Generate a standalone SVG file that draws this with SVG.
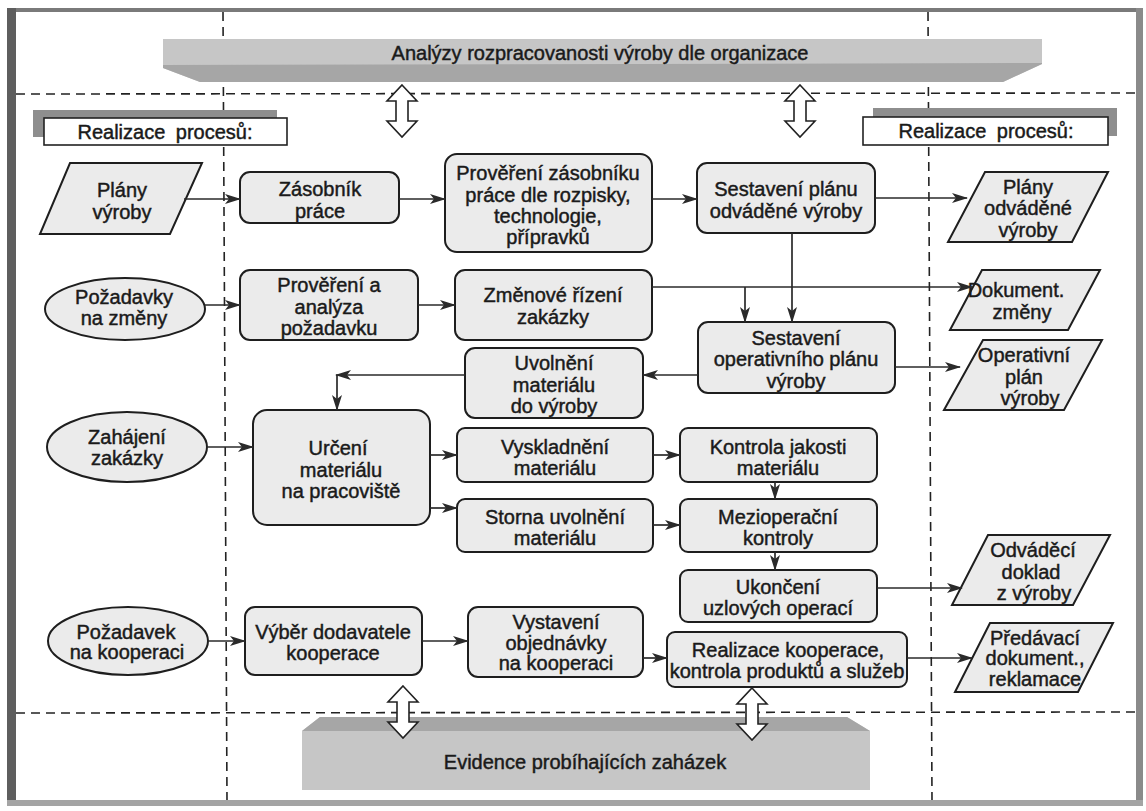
<svg xmlns="http://www.w3.org/2000/svg" width="1146" height="811" viewBox="0 0 1146 811">
  <style>
    text { font-family: "Liberation Sans", Arial, sans-serif; font-size: 20px; fill: #1a1a1a; stroke: #1a1a1a; stroke-width: 0.45; text-anchor: middle; }
    .node { fill: #ebebeb; stroke: #1e1e1e; stroke-width: 2; }
    .lane { fill: none; stroke: #222; stroke-width: 1.6; stroke-dasharray: 9 6; }
    .conn { fill: none; stroke: #2a2a2a; stroke-width: 1.7; marker-end: url(#arrow); }
    .band-light { fill: #c6c6c6; }
    .band-dark { fill: #a6a6a6; }
    .label { fill: #ffffff; stroke: #222; stroke-width: 1.6; }
    .label-shadow { fill: #8e8e8e; }
    .dbl { fill: #ffffff; stroke: #222; stroke-width: 1.6; }
  </style>
  <defs>
    <marker id="arrow" viewBox="0 0 16 10" refX="15" refY="5" markerWidth="16" markerHeight="10" markerUnits="userSpaceOnUse" orient="auto">
      <path d="M0,0 L16,5 L0,10 L4,5 Z" fill="#2a2a2a"/>
    </marker>
    <path id="dblArrow" d="M0,-26 L15,-10 L6,-10 L6,10 L15,10 L0,26 L-15,10 L-6,10 L-6,-10 L-15,-10 Z"/>
  </defs>

  <rect x="0" y="0" width="1146" height="811" fill="#ffffff"/>

  <!-- page frame -->
  <g id="frame">
    <rect x="7" y="8" width="1136" height="4" fill="#7a7a7a"/>
    <rect x="7" y="8" width="9" height="798" fill="#5e5e5e"/>
    <rect x="1136" y="8" width="7" height="798" fill="#8a8a8a"/>
    <rect x="7" y="800" width="1136" height="6" fill="#a4a4a4"/>
  </g>

  <!-- swimlane separators -->
  <g id="lanes">
    <line class="lane" x1="223" y1="12" x2="227" y2="800"/>
    <line class="lane" x1="928" y1="12" x2="932" y2="800"/>
    <line class="lane" x1="16" y1="94" x2="1136" y2="93"/>
    <line class="lane" x1="16" y1="713" x2="1136" y2="712"/>
  </g>

  <!-- top banner -->
  <g id="banner-top">
    <path class="band-light" d="M163,39 L1042,39 L1042,64 L1003,82 L200,82 L163,68 Z"/>
    <path class="band-dark" d="M163,65 L1042,63 L1042,64 L1003,82 L200,82 L163,68 Z"/>
    <text x="600" y="60">Analýzy rozpracovanosti výroby dle organizace</text>
  </g>

  <!-- bottom banner -->
  <g id="banner-bottom">
    <path class="band-light" d="M320,717 L847,717 L870,731 L870,790 L302,790 L302,731 Z"/>
    <path class="band-dark" d="M320,717 L847,717 L870,731 L302,731 Z"/>
    <text x="585" y="769">Evidence probíhajících zaházek</text>
  </g>

  <!-- lane headers -->
  <g id="header-left">
    <rect class="label-shadow" x="33" y="110" width="244" height="27"/>
    <rect class="label" x="44" y="118" width="243" height="27"/>
    <text x="165" y="139" word-spacing="5">Realizace procesů:</text>
  </g>
  <g id="header-right">
    <rect class="label-shadow" x="873" y="108" width="244" height="28"/>
    <rect class="label" x="863" y="117" width="245" height="28"/>
    <text x="986" y="138" word-spacing="5">Realizace procesů:</text>
  </g>

  <!-- exchange arrows to the banners -->
  <g id="exchange">
    <use href="#dblArrow" class="dbl" x="402" y="111"/>
    <use href="#dblArrow" class="dbl" x="800" y="111"/>
    <use href="#dblArrow" class="dbl" x="403" y="712"/>
    <use href="#dblArrow" class="dbl" x="752" y="714"/>
  </g>

  <!-- inputs -->
  <g id="plany-vyroby">
    <path class="node" d="M70,163 L202,163 L170,234 L40,234 Z"/>
    <text x="122" y="197">Plány</text>
    <text x="122" y="219">výroby</text>
  </g>
  <g id="pozadavky-zmeny">
    <ellipse class="node" cx="125" cy="309" rx="80" ry="31"/>
    <text x="124" y="304">Požadavky</text>
    <text x="124" y="325">na změny</text>
  </g>
  <g id="zahajeni-zakazky">
    <ellipse class="node" cx="127" cy="447" rx="80" ry="35"/>
    <text x="127" y="444">Zahájení</text>
    <text x="127" y="465">zakázky</text>
  </g>
  <g id="pozadavek-kooperace">
    <ellipse class="node" cx="128" cy="641" rx="80" ry="34"/>
    <text x="126" y="639">Požadavek</text>
    <text x="127" y="659">na kooperaci</text>
  </g>

  <!-- processes -->
  <g id="zasobnik">
    <rect class="node" x="240" y="172" width="159" height="51" rx="10"/>
    <text x="320" y="196">Zásobník</text>
    <text x="320" y="218">práce</text>
  </g>
  <g id="provereni-zasobniku">
    <rect class="node" x="445" y="154" width="207" height="98" rx="12"/>
    <text x="548" y="180">Prověření zásobníku</text>
    <text x="548" y="202">práce dle rozpisky,</text>
    <text x="548" y="223">technologie,</text>
    <text x="548" y="244">přípravků</text>
  </g>
  <g id="sestaveni-planu">
    <rect class="node" x="697" y="163" width="178" height="70" rx="10"/>
    <text x="786" y="196">Sestavení plánu</text>
    <text x="786" y="218">odváděné výroby</text>
  </g>
  <g id="provereni-analyza">
    <rect class="node" x="240" y="270" width="178" height="70" rx="10"/>
    <text x="329" y="292">Prověření a</text>
    <text x="329" y="314">analýza</text>
    <text x="329" y="335">požadavku</text>
  </g>
  <g id="zmenove-rizeni">
    <rect class="node" x="455" y="270" width="197" height="70" rx="10"/>
    <text x="553" y="302">Změnové řízení</text>
    <text x="553" y="324">zakázky</text>
  </g>
  <g id="sestaveni-operativniho">
    <rect class="node" x="698" y="322" width="197" height="71" rx="10"/>
    <text x="796" y="345">Sestavení</text>
    <text x="796" y="366">operativního plánu</text>
    <text x="796" y="388">výroby</text>
  </g>
  <g id="uvolneni">
    <rect class="node" x="465" y="348" width="178" height="70" rx="10"/>
    <text x="554" y="370">Uvolnění</text>
    <text x="554" y="392">materiálu</text>
    <text x="554" y="413">do výroby</text>
  </g>
  <g id="urceni">
    <rect class="node" x="253" y="410" width="177" height="115" rx="14"/>
    <text x="338" y="455">Určení</text>
    <text x="341" y="477">materiálu</text>
    <text x="341" y="498">na pracoviště</text>
  </g>
  <g id="vyskladneni">
    <rect class="node" x="457" y="428" width="196" height="54" rx="8"/>
    <text x="555" y="454">Vyskladnění</text>
    <text x="555" y="475">materiálu</text>
  </g>
  <g id="kontrola-jakosti">
    <rect class="node" x="680" y="428" width="197" height="54" rx="8"/>
    <text x="778" y="454">Kontrola jakosti</text>
    <text x="778" y="475">materiálu</text>
  </g>
  <g id="storna">
    <rect class="node" x="457" y="499" width="196" height="53" rx="8"/>
    <text x="555" y="524">Storna uvolnění</text>
    <text x="555" y="545">materiálu</text>
  </g>
  <g id="mezioperacni">
    <rect class="node" x="680" y="499" width="197" height="53" rx="8"/>
    <text x="778" y="524">Mezioperační</text>
    <text x="778" y="545">kontroly</text>
  </g>
  <g id="ukonceni">
    <rect class="node" x="680" y="570" width="197" height="52" rx="8"/>
    <text x="778" y="594">Ukončení</text>
    <text x="778" y="615">uzlových operací</text>
  </g>
  <g id="vyber-dodavatele">
    <rect class="node" x="245" y="607" width="177" height="68" rx="10"/>
    <text x="333" y="639">Výběr dodavatele</text>
    <text x="333" y="660">kooperace</text>
  </g>
  <g id="vystaveni-objednavky">
    <rect class="node" x="468" y="607" width="175" height="70" rx="10"/>
    <text x="556" y="629">Vystavení</text>
    <text x="556" y="650">objednávky</text>
    <text x="556" y="670">na kooperaci</text>
  </g>
  <g id="realizace-kooperace">
    <rect class="node" x="667" y="632" width="240" height="55" rx="8"/>
    <text x="788" y="657">Realizace kooperace,</text>
    <text x="787" y="678">kontrola produktů a služeb</text>
  </g>

  <!-- outputs -->
  <g id="plany-odvadene">
    <path class="node" d="M985,172 L1108,172 L1072,242 L948,242 Z"/>
    <text x="1028" y="194">Plány</text>
    <text x="1028" y="215">odváděné</text>
    <text x="1028" y="237">výroby</text>
  </g>
  <g id="dokument-zmeny">
    <path class="node" d="M982,270 L1100,270 L1068,330 L950,330 Z"/>
    <text x="1016" y="297">Dokument.</text>
    <text x="1022" y="319">změny</text>
  </g>
  <g id="operativni-plan">
    <path class="node" d="M983,340 L1102,340 L1064,410 L944,410 Z"/>
    <text x="1024" y="362">Operativní</text>
    <text x="1024" y="384">plán</text>
    <text x="1030" y="405">výroby</text>
  </g>
  <g id="odvadeci-doklad">
    <path class="node" d="M988,535 L1110,535 L1073,605 L952,605 Z"/>
    <text x="1033" y="557">Odváděcí</text>
    <text x="1031" y="579">doklad</text>
    <text x="1034" y="600">z výroby</text>
  </g>
  <g id="predavaci-dokument">
    <path class="node" d="M990,623 L1113,623 L1078,692 L955,692 Z"/>
    <text x="1035" y="645">Předávací</text>
    <text x="1035" y="665">dokument.,</text>
    <text x="1035" y="686">reklamace</text>
  </g>

  <!-- connectors -->
  <g id="connectors">
    <path class="conn" d="M184,199 H240"/>
    <path class="conn" d="M399,199 H445"/>
    <path class="conn" d="M652,199 H697"/>
    <path class="conn" d="M875,198 H967"/>
    <path class="conn" d="M792,233 V322"/>
    <path class="conn" d="M205,305 H240"/>
    <path class="conn" d="M418,305 H455"/>
    <path class="conn" d="M652,287 H972"/>
    <path class="conn" d="M745,287 V322"/>
    <path class="conn" d="M895,367 H960"/>
    <path class="conn" d="M698,375 H643"/>
    <path class="conn" d="M465,375 H336"/>
    <path class="conn" d="M337,375 V410"/>
    <path class="conn" d="M207,447 H253"/>
    <path class="conn" d="M430,455 H457"/>
    <path class="conn" d="M430,508 H457"/>
    <path class="conn" d="M653,455 H680"/>
    <path class="conn" d="M775,482 V499"/>
    <path class="conn" d="M653,525 H680"/>
    <path class="conn" d="M775,552 V570"/>
    <path class="conn" d="M877,588 H962"/>
    <path class="conn" d="M208,641 H245"/>
    <path class="conn" d="M422,641 H468"/>
    <path class="conn" d="M643,658 H667"/>
    <path class="conn" d="M907,658 H972"/>
  </g>
</svg>
